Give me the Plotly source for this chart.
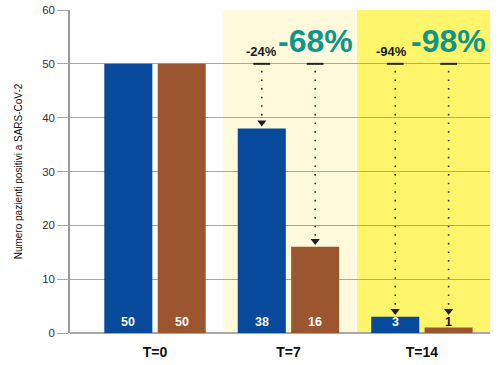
import plotly.graph_objects as go

categories = ["T=0", "T=7", "T=14"]
blue_vals = [50, 38, 3]
brown_vals = [50, 16, 1]
blue_pct = ["", "-24%", "-94%"]
brown_pct = ["", "-68%", "-98%"]
baseline = 50
y_ticks = [0, 10, 20, 30, 40, 50, 60]

BLUE = "#07499a"
BROWN = "#9b5630"
TEAL = "#0d968b"
CREAM = "#fefadb"
YELLOW = "#fff56a"
GRID = "#a8a8a8"
FONT = "Liberation Sans, Arial, sans-serif"

idx = list(range(len(categories)))
off = 0.2

fig = go.Figure()

fig.add_trace(go.Bar(x=idx, y=blue_vals, offset=-0.38, width=0.36,
                     marker=dict(color=BLUE, line_width=0), hoverinfo="skip"))
fig.add_trace(go.Bar(x=idx, y=brown_vals, offset=0.02, width=0.36,
                     marker=dict(color=BROWN, line_width=0), hoverinfo="skip"))

# reference dashes, dotted drop lines, arrowheads for T=7 and T=14
for i in idx[1:]:
    for sign, vals in ((-1, blue_vals), (1, brown_vals)):
        xc = i + sign * off
        v = max(vals[i], 3)
        fig.add_trace(go.Scatter(x=[xc], y=[baseline], mode="markers",
                                 marker=dict(symbol="line-ew", size=12,
                                             line=dict(color="#222222", width=2)),
                                 hoverinfo="skip"))
        fig.add_trace(go.Scatter(x=[xc, xc], y=[baseline - 1.3, v + 1.6], mode="lines",
                                 line=dict(color="#333333", width=1.6, dash="1.6px,7px"),
                                 hoverinfo="skip"))
        fig.add_trace(go.Scatter(x=[xc], y=[v + 1.1], mode="markers",
                                 marker=dict(symbol="triangle-down", size=8, color="#222222",
                                             line_width=0),
                                 hoverinfo="skip"))

annotations = []
for i in idx:
    annotations.append(dict(x=i - off, y=0, yanchor="bottom", yshift=2, showarrow=False,
                            text="<b>%d</b>" % blue_vals[i],
                            font=dict(family=FONT, size=12.5, color="white")))
    col = "white" if brown_vals[i] > 3 else "#111111"
    annotations.append(dict(x=i + off, y=0, yanchor="bottom", yshift=2, showarrow=False,
                            text="<b>%d</b>" % brown_vals[i],
                            font=dict(family=FONT, size=12.5, color=col)))
    if blue_pct[i]:
        annotations.append(dict(x=i - off, y=52.2, yanchor="middle", showarrow=False,
                                xshift=0 if i == 1 else -4,
                                text="<b>%s</b>" % blue_pct[i],
                                font=dict(family=FONT, size=13, color="#1a1a1a")))
    if brown_pct[i]:
        annotations.append(dict(x=i + off, y=54.3, yanchor="middle", showarrow=False,
                                text="<b>%s</b>" % brown_pct[i],
                                font=dict(family=FONT, size=32, color=TEAL)))

shapes = [
    dict(type="rect", xref="x", yref="y", x0=0.509, x1=1.498, y0=0, y1=60,
         fillcolor=CREAM, line_width=0, layer="below"),
    dict(type="rect", xref="x", yref="y", x0=1.513, x1=2.51, y0=0, y1=60,
         fillcolor=YELLOW, line_width=0, layer="below"),
]

fig.update_layout(
    width=500, height=365,
    margin=dict(l=70, r=10, t=10, b=32),
    paper_bgcolor="white", plot_bgcolor="white",
    showlegend=False, barmode="overlay",
    shapes=shapes, annotations=annotations,
    font=dict(family=FONT, color="#333333"),
)
fig.update_xaxes(range=[-0.637, 2.51], tickvals=idx, automargin=False,
                 ticktext=["<b>%s</b>" % c for c in categories],
                 tickfont=dict(family=FONT, size=14, color="#111111"),
                 showgrid=False, zeroline=False, showline=False, ticks="",
                 ticklabelstandoff=9)
fig.update_yaxes(range=[0, 60], tickvals=y_ticks, showgrid=True, gridcolor=GRID,
                 automargin=False,
                 gridwidth=1, zeroline=True, zerolinecolor=GRID, zerolinewidth=1.5,
                 showline=True, linecolor="#999999", linewidth=1.5,
                 ticks="outside", ticklen=11, tickcolor=GRID, tickwidth=1,
                 tickfont=dict(family=FONT, size=11.5, color="#333333"),
                 title=dict(text="Numero pazienti positivi a SARS-CoV-2",
                            font=dict(family=FONT, size=10, color="#111111"),
                            standoff=18))

fig.write_html("out.html", config={"displayModeBar": False},
               post_script="document.body.style.margin='0';")
